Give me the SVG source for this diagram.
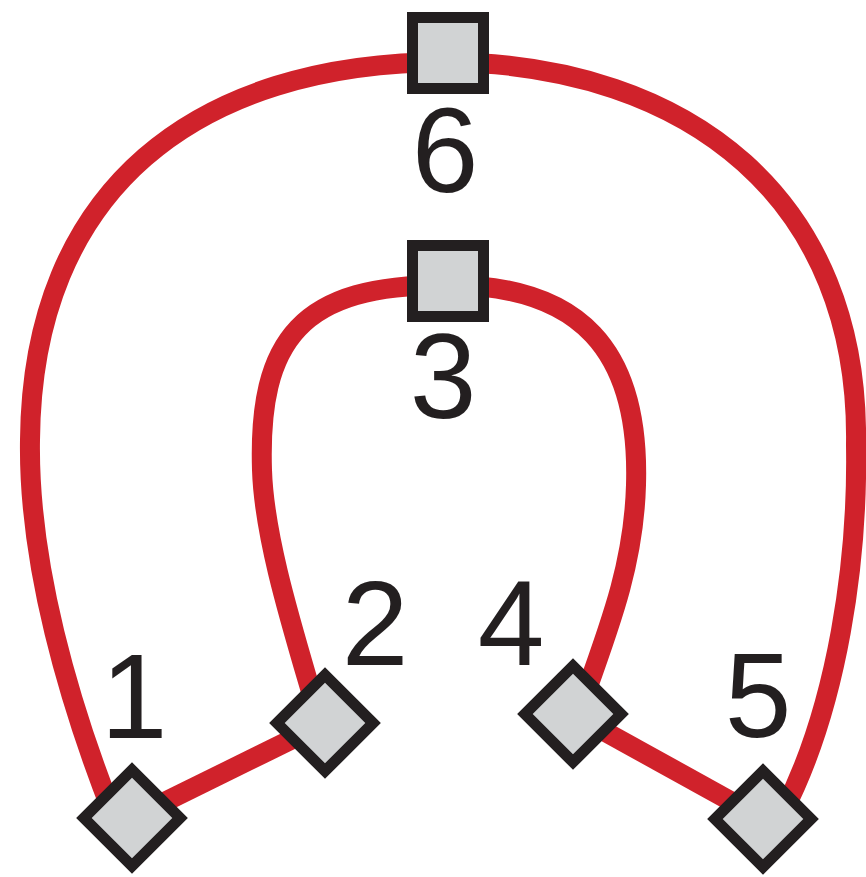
<svg xmlns="http://www.w3.org/2000/svg" width="866" height="877" viewBox="0 0 866 877">
<style>
.edge{fill:none;stroke:#d0222b;stroke-width:20}
.node{fill:#d1d3d4;stroke:#231f20;stroke-width:11}
.lbl{font-family:"Liberation Sans",Arial,sans-serif;font-size:120px;fill:#231f20;text-anchor:middle}
</style>
<rect width="866" height="877" fill="#ffffff"/>
<g id="connectors">
<path class="edge" d="M112,812 C70,705 28,565 30,440 C32,190 195,62 448,62"/>
<path class="edge" d="M448,62 C690,65 860,200 856,445 C858,560 838,705 783,812"/>
<path class="edge" d="M312,695 C290,620 264,535 262,470 C258,340 300,284 448,285"/>
<path class="edge" d="M448,285 C580,285 640,350 636,485 C634,560 612,620 585,695"/>
<line class="edge" x1="132" y1="818" x2="325" y2="723"/>
<line class="edge" x1="573" y1="714" x2="763" y2="819"/>
</g>
<g id="node6">
<rect class="node" x="412.5" y="17.5" width="71" height="71"/>
<text class="lbl" x="445" y="192">6</text>
</g>
<g id="node3">
<rect class="node" x="412.5" y="245.5" width="71" height="71"/>
<text class="lbl" x="443" y="418">3</text>
</g>
<g id="node1">
<rect class="node" x="-34" y="-34" width="68" height="68" transform="translate(132 818) rotate(45)"/>
<text class="lbl" x="134" y="738">1</text>
</g>
<g id="node2">
<rect class="node" x="-34" y="-34" width="68" height="68" transform="translate(325 723) rotate(45)"/>
<text class="lbl" x="375" y="665">2</text>
</g>
<g id="node4">
<rect class="node" x="-34" y="-34" width="68" height="68" transform="translate(573 714) rotate(45)"/>
<text class="lbl" x="511" y="665">4</text>
</g>
<g id="node5">
<rect class="node" x="-34" y="-34" width="68" height="68" transform="translate(763 819) rotate(45)"/>
<text class="lbl" x="758" y="737">5</text>
</g>
</svg>
